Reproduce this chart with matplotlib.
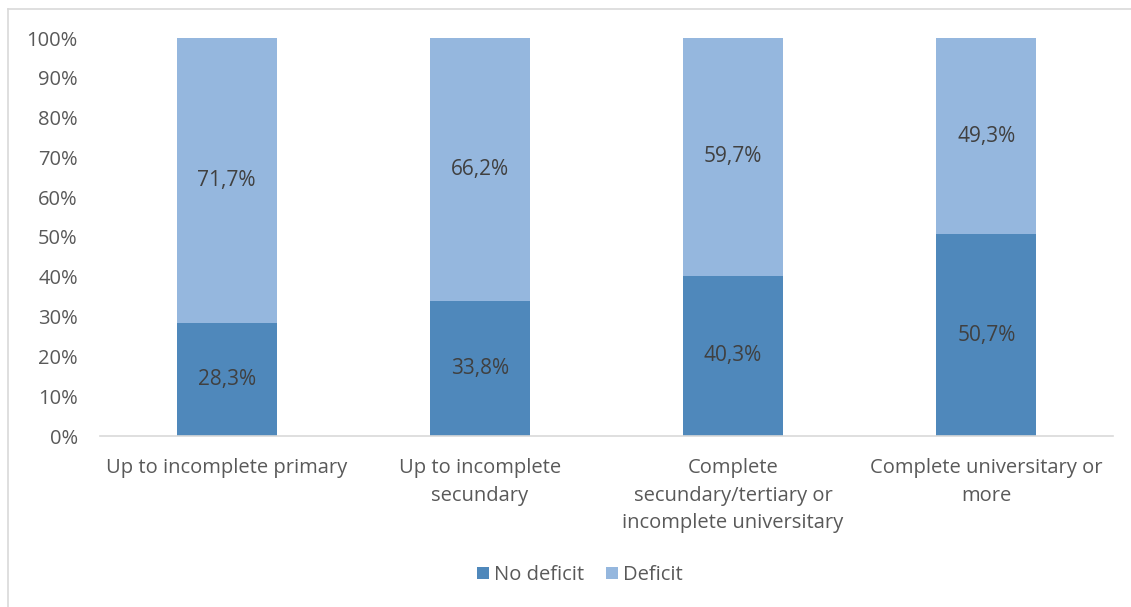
import matplotlib
matplotlib.use("Agg")
import matplotlib.pyplot as plt
from matplotlib.lines import Line2D
from matplotlib.ticker import FuncFormatter

categories = ["Up to incomplete primary",
              "Up to incomplete\nsecundary",
              "Complete\nsecundary/tertiary or\nincomplete universitary",
              "Complete universitary or\nmore"]
no_deficit = [28.3, 33.8, 40.3, 50.7]
deficit = [71.7, 66.2, 59.7, 49.3]

dark_blue = "#4f88bb"
light_blue = "#95b7de"
grey_txt = "#595959"
fs = 14.5

plt.rcParams['font.family'] = ['Open Sans', 'DejaVu Sans']

W, H = 1131, 607
fig = plt.figure(figsize=(W / 100, H / 100), dpi=100)
ax = fig.add_axes([100 / W, 1 - 436 / H, 1013 / W, 398 / H])

x = range(len(categories))
b1 = ax.bar(x, no_deficit, width=0.395, color=dark_blue, label="No deficit")
b2 = ax.bar(x, deficit, width=0.395, bottom=no_deficit, color=light_blue, label="Deficit")

for i in x:
    ax.text(i, no_deficit[i] / 2, f"{no_deficit[i]:.1f}%".replace(".", ","),
            ha="center", va="center", fontsize=15, color="#404040")
    ax.text(i, no_deficit[i] + deficit[i] / 2, f"{deficit[i]:.1f}%".replace(".", ","),
            ha="center", va="center", fontsize=15, color="#404040")

ax.set_xlim(-0.5, len(categories) - 0.5)
ax.set_ylim(0, 100)
ax.set_yticks(range(0, 101, 10))
ax.yaxis.set_major_formatter(FuncFormatter(lambda v, p: f"{int(v)}%"))
ax.set_xticks(list(x))
ax.set_xticklabels(categories, fontsize=fs, color=grey_txt, linespacing=1.5)
ax.tick_params(axis="y", labelsize=fs, labelcolor=grey_txt, length=0, pad=16)
ax.tick_params(axis="x", length=0, pad=16)
for s in ["top", "right", "left"]:
    ax.spines[s].set_visible(False)
ax.spines["bottom"].set_color("#d9d9d9")
ax.spines["bottom"].set_linewidth(1.2)

leg = fig.legend(handles=[b1, b2], loc="center", bbox_to_anchor=(580 / W, 1 - 575 / H),
                 ncol=2, frameon=False, fontsize=fs, handlelength=0.6, handleheight=0.6,
                 handletextpad=0.25, columnspacing=1.1)
for t in leg.get_texts():
    t.set_color(grey_txt)

# outer chart frame (top and left edges)
fig.add_artist(Line2D([8 / W, 8 / W], [0, 1 - 9 / H], transform=fig.transFigure,
                      color="#d9d9d9", lw=1.2))
fig.add_artist(Line2D([8 / W, 1], [1 - 9 / H, 1 - 9 / H], transform=fig.transFigure,
                      color="#d9d9d9", lw=1.2))

fig.savefig("out.png", dpi=100)
